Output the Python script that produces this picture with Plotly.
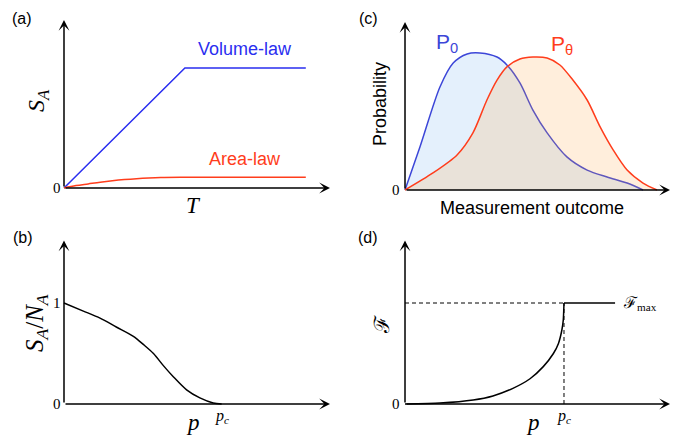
import plotly.graph_objects as go

# page body has an 8px margin; work in window pixels and convert
OFF = 8
W, H = 680 - OFF, 435 - OFF

# ---------------- data ----------------
# (a) entanglement growth
T_volume = [0, 5, 10]
S_volume = [0, 5, 5]
T_area = [0, 0.5, 1, 1.5, 2, 2.5, 3, 3.5, 4, 5, 10]
S_area = [0, 0.1, 0.17, 0.24, 0.3, 0.35, 0.39, 0.42, 0.44, 0.45, 0.45]

# (c) measurement distributions
outcome_p0 = [0, 0.62, 1.45, 2.0, 2.58, 3.11, 3.82, 4.23, 4.77, 5.31, 5.9, 6.72, 7.56, 8.39, 9.22, 9.88]
prob_p0 = [0, 1.79, 4.29, 5.29, 5.67, 5.71, 5.54, 5.21, 4.46, 3.33, 2.38, 1.38, 0.83, 0.54, 0.29, 0.0]
outcome_pt = [0, 1.16, 2.16, 2.82, 3.4, 3.82, 4.23, 4.77, 5.31, 5.9, 6.43, 6.97, 7.56, 8.1, 8.64, 9.22, 9.88, 10.46]
prob_pt = [0, 0.71, 1.46, 2.38, 3.75, 4.58, 5.13, 5.46, 5.54, 5.5, 5.21, 4.58, 3.75, 2.63, 1.67, 0.83, 0.29, 0.0]

# (b) entanglement density vs p
p_b = [0, 0.8, 1.49, 2.18, 2.87, 3.28, 3.7, 4.11, 4.52, 5.07, 5.62, 6.17, 6.52]
s_b = [1.0, 0.92, 0.85, 0.76, 0.67, 0.59, 0.5, 0.38, 0.27, 0.14, 0.06, 0.01, 0.0]
pc_b = 6.52

# (d) Fisher information vs p
p_d = [0, 1.45, 2.83, 3.65, 4.48, 5.19, 5.74, 6.16, 6.37, 6.51, 6.57, 6.6]
F_d = [0, 0.01, 0.04, 0.08, 0.155, 0.25, 0.37, 0.50, 0.60, 0.73, 0.83, 1.0]
pc_d = 6.6
F_max = 1.0
p_end_d = 8.72

BLUE = "#2a2ef0"
BLUE_C = "#3c46d8"
RED = "#ff3d1c"
SANS = "Liberation Sans, Arial, sans-serif"
SERIF = "Liberation Serif, DejaVu Serif, serif"

# panel geometry (window-pixel origin, pixel per unit, ranges, arrow tips)
panels = {
    "a": dict(xa="x", ya="y", ox=64, oy=188, ux=24.18, uy=24, xr=[-0.4, 11.2], yr=[-0.5, 7.5], tx=11, ty=7),
    "c": dict(xa="x2", ya="y2", ox=405, oy=190, ux=24.09, uy=24, xr=[-0.4, 11.2], yr=[-0.5, 7.5], tx=11, ty=7),
    "b": dict(xa="x3", ya="y3", ox=64, oy=404, ux=24.18, uy=101, xr=[-0.4, 11.2], yr=[-0.1, 1.7], tx=11, ty=1.62),
    "d": dict(xa="x4", ya="y4", ox=405, oy=404, ux=24.09, uy=101, xr=[-0.4, 11.2], yr=[-0.1, 1.7], tx=11, ty=1.62),
}

fig = go.Figure()

# (a)
fig.add_trace(go.Scatter(x=T_volume, y=S_volume, mode="lines", line=dict(color=BLUE, width=1.5),
                         xaxis="x", yaxis="y", showlegend=False))
fig.add_trace(go.Scatter(x=T_area, y=S_area, mode="lines", line=dict(color=RED, width=1.5, shape="spline"),
                         xaxis="x", yaxis="y", showlegend=False))

# (c)
fig.add_trace(go.Scatter(x=outcome_p0, y=prob_p0, mode="lines", fill="tozeroy",
                         fillcolor="rgba(110,175,240,0.19)",
                         line=dict(color=BLUE_C, width=1.5, shape="spline", smoothing=0.8),
                         xaxis="x2", yaxis="y2", showlegend=False))
fig.add_trace(go.Scatter(x=outcome_pt, y=prob_pt, mode="lines", fill="tozeroy",
                         fillcolor="rgba(255,165,70,0.19)",
                         line=dict(color=RED, width=1.5, shape="spline", smoothing=0.8),
                         xaxis="x2", yaxis="y2", showlegend=False))

# (b)
fig.add_trace(go.Scatter(x=p_b, y=s_b, mode="lines", line=dict(color="black", width=1.5, shape="spline", smoothing=0.8),
                         xaxis="x3", yaxis="y3", showlegend=False))

# (d)
fig.add_trace(go.Scatter(x=[0, pc_d], y=[F_max, F_max], mode="lines",
                         line=dict(color="black", width=1, dash="4px,3px"),
                         xaxis="x4", yaxis="y4", showlegend=False))
fig.add_trace(go.Scatter(x=[pc_d, pc_d], y=[0, F_max], mode="lines",
                         line=dict(color="black", width=1, dash="4px,3px"),
                         xaxis="x4", yaxis="y4", showlegend=False))
fig.add_trace(go.Scatter(x=p_d, y=F_d, mode="lines", line=dict(color="black", width=1.5, shape="spline", smoothing=0.6),
                         xaxis="x4", yaxis="y4", showlegend=False))
fig.add_trace(go.Scatter(x=[pc_d, p_end_d], y=[F_max, F_max], mode="lines", line=dict(color="black", width=1.5),
                         xaxis="x4", yaxis="y4", showlegend=False))

layout = dict(width=W, height=H, margin=dict(l=0, r=0, t=0, b=0),
              paper_bgcolor="white", plot_bgcolor="rgba(0,0,0,0)")
annotations = []


def fx(px):
    return (px - OFF) / W


def fy(py):
    return 1 - (py - OFF) / H


for key, p in panels.items():
    xd = [fx(p["ox"] + p["xr"][0] * p["ux"]), fx(p["ox"] + p["xr"][1] * p["ux"])]
    yd = [fy(p["oy"] - p["yr"][0] * p["uy"]), fy(p["oy"] - p["yr"][1] * p["uy"])]
    xd = [max(0, xd[0]), min(1, xd[1])]
    yd = [max(0, yd[0]), min(1, yd[1])]
    xname = "xaxis" if p["xa"] == "x" else "xaxis" + p["xa"][1:]
    yname = "yaxis" if p["ya"] == "y" else "yaxis" + p["ya"][1:]
    layout[xname] = dict(domain=xd, range=p["xr"], visible=False, anchor=p["ya"], fixedrange=True)
    layout[yname] = dict(domain=yd, range=p["yr"], visible=False, anchor=p["xa"], fixedrange=True)
    for tip in [(p["tx"], 0), (0, p["ty"])]:
        annotations.append(dict(x=tip[0], y=tip[1], ax=0, ay=0, xref=p["xa"], yref=p["ya"],
                                axref=p["xa"], ayref=p["ya"], text="", showarrow=True,
                                arrowhead=3, arrowsize=1.2, arrowwidth=1.5, arrowcolor="black"))


def txt(px, py, text, size, family, color="black", angle=0, xanchor="center"):
    annotations.append(dict(x=fx(px), y=fy(py), xref="paper", yref="paper", text=text,
                            showarrow=False, xanchor=xanchor, yanchor="middle", textangle=angle,
                            font=dict(size=size, family=family, color=color)))


def dtxt(x, y, xa, ya, text, size, xshift=0, yshift=0):
    annotations.append(dict(x=x, y=y, xref=xa, yref=ya, text=text, showarrow=False,
                            xanchor="center", yanchor="middle", xshift=xshift, yshift=yshift,
                            font=dict(size=size, family=SERIF, color="black")))


# panel letters
txt(22, 18, "(a)", 16, SANS)
txt(368, 18, "(c)", 16, SANS)
txt(23, 237, "(b)", 16, SANS)
txt(368, 237, "(d)", 16, SANS)

# (a) texts
txt(245, 49, "Volume-law", 18, SANS, BLUE)
txt(245, 159, "Area-law", 18, SANS, RED)
txt(38, 101, "<i>S</i><sub><i>A</i></sub>", 24, SERIF, angle=-90)
txt(193, 205, "<i>T</i>", 23, SERIF)
dtxt(0, 0, "x", "y", "0", 15, xshift=-7)

# (c) texts
txt(447, 43, "P<sub>0</sub>", 21, SANS, BLUE_C)
txt(562, 45, "P<sub>θ</sub>", 21, SANS, RED)
txt(380, 104, "Probability", 18, SANS, angle=-90)
txt(532, 208, "Measurement outcome", 18, SANS)
dtxt(0, 0, "x2", "y2", "0", 15, xshift=-9)

# (b) texts
txt(36, 323, "<i>S</i><sub><i>A</i></sub>/<i>N</i><sub><i>A</i></sub>", 25, SERIF, angle=-90)
dtxt(0, 1, "x3", "y3", "1", 15, xshift=-7)
dtxt(0, 0, "x3", "y3", "0", 15, xshift=-7)
dtxt(pc_b, 0, "x3", "y3", "<i>p</i><sub><i>c</i></sub>", 16, yshift=-12)
txt(193, 422, "<i>p</i>", 23, SERIF)

# (d) texts
txt(382, 325, "ℱ", 21, SERIF, angle=-90)
dtxt(0, 0, "x4", "y4", "0", 15, xshift=-9)
dtxt(pc_d, 0, "x4", "y4", "<i>p</i><sub><i>c</i></sub>", 16, yshift=-12)
txt(533, 422, "<i>p</i>", 23, SERIF)
txt(621, 303, "ℱ<sub>max</sub>", 16, SERIF, xanchor="left")

layout["annotations"] = annotations
fig.update_layout(**layout)
fig.write_html("out.html")
